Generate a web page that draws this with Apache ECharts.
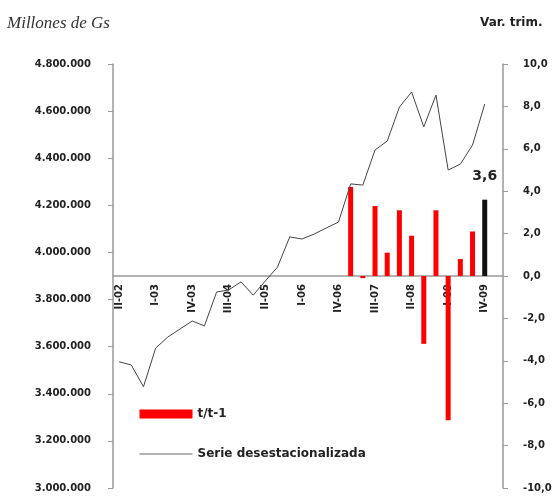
<!DOCTYPE html>
<html>
<head>
    <meta charset="utf-8">
    <title>Serie desestacionalizada</title>
    <script src="https://cdn.jsdelivr.net/npm/echarts@6/dist/echarts.min.js"></script>
    <style>
        html, body { margin: 0; padding: 0; background: #fff; }
        #chart { width: 560px; height: 496px; }
    </style>
</head>
<body>
    <div id="chart"></div>
    <script type="text/javascript">
        // trimestres (el último vacío deja el hueco antes del eje derecho)
        const quarters = ['II-02', 'III-02', 'IV-02', 'I-03', 'II-03', 'III-03', 'IV-03',
            'I-04', 'II-04', 'III-04', 'IV-04', 'I-05', 'II-05', 'III-05', 'IV-05',
            'I-06', 'II-06', 'III-06', 'IV-06', 'I-07', 'II-07', 'III-07', 'IV-07',
            'I-08', 'II-08', 'III-08', 'IV-08', 'I-09', 'II-09', 'III-09', 'IV-09', ''];

        // serie desestacionalizada (millones de Gs)
        const serieDesest = [3536000, 3522000, 3430000, 3594000, 3641000, 3675000, 3709000,
            3688000, 3832000, 3841000, 3875000, 3819000, 3879000, 3938000, 4066000,
            4057000, 4078000, 4104000, 4129000, 4291000, 4286000, 4435000, 4473000,
            4617000, 4681000, 4533000, 4668000, 4350000, 4375000, 4456000, 4630000, null];

        // variación trimestral t/t-1 (%)
        const varTrim = [null, null, null, null, null, null, null, null, null, null,
            null, null, null, null, null, null, null, null, null,
            4.2, -0.1, 3.3, 1.1, 3.1, 1.9, -3.2, 3.1, -6.8, 0.8, 2.1, 3.6, null];

        const leftTicks = { min: 3000000, max: 4800000, step: 200000 };
        const rightTicks = { min: -10, max: 10, step: 2 };

        const lastIdx = 30;

        function fmtMiles(v) {
            return String(v).replace(/\B(?=(\d{3})+(?!\d))/g, '.');
        }
        function fmtDec(v) {
            return v.toFixed(1).replace('.', ',');
        }

        const gridTop = 64, gridBottom = 8, chartH = 496;
        // el eje de categorías cruza en el 0 del eje derecho (mitad de la altura)
        const zeroOffset = -(chartH - gridTop - gridBottom) / 2;

        const axisFont = { fontFamily: 'DejaVu Sans', fontSize: 10, fontWeight: 'bold', color: '#222' };

        const chart = echarts.init(document.getElementById('chart'));
        const option = {
            animation: false,
            textStyle: { fontFamily: 'DejaVu Sans' },
            grid: { left: 113, right: 57, top: gridTop, bottom: gridBottom, containLabel: false, outerBoundsMode: 'none' },
            title: [{
                text: 'Millones de Gs',
                left: 7, top: 15, padding: 0,
                textStyle: { fontFamily: 'Liberation Serif', fontStyle: 'italic', fontWeight: 'normal', fontSize: 17, color: '#333' }
            }, {
                text: 'Var. trim.',
                left: 480, top: 17, padding: 0,
                textStyle: { fontFamily: 'DejaVu Sans', fontWeight: 'bold', fontSize: 12, color: '#222' }
            }],
            legend: {
                orient: 'vertical',
                left: 139, top: 408,
                padding: 0,
                itemWidth: 53, itemHeight: 9, itemGap: 28,
                textStyle: { fontFamily: 'DejaVu Sans', fontSize: 12, fontWeight: 'bold', color: '#222' },
                data: [
                    { name: 't/t-1', icon: 'rect', itemStyle: { color: '#ff0000' } },
                    { name: 'Serie desestacionalizada', itemStyle: { opacity: 0 }, lineStyle: { color: '#666', width: 1 } }
                ]
            },
            xAxis: {
                type: 'category',
                data: quarters,
                boundaryGap: true,
                offset: zeroOffset,
                axisLine: { onZero: false, lineStyle: { color: '#999', width: 1.5 } },
                axisTick: { interval: 0, length: 3, lineStyle: { color: '#999' } },
                axisLabel: Object.assign({ interval: 2, rotate: 90, margin: 8 }, axisFont),
                splitLine: { show: false }
            },
            yAxis: [{
                type: 'value',
                position: 'left',
                min: leftTicks.min, max: leftTicks.max, interval: leftTicks.step,
                axisLine: { show: true, lineStyle: { color: '#999', width: 1.5 } },
                axisTick: { show: true, length: 5, lineStyle: { color: '#999' } },
                axisLabel: Object.assign({ margin: 22, formatter: fmtMiles }, axisFont),
                splitLine: { show: false }
            }, {
                type: 'value',
                position: 'right',
                min: rightTicks.min, max: rightTicks.max, interval: rightTicks.step,
                axisLine: { show: true, lineStyle: { color: '#999', width: 1.5 } },
                axisTick: { show: true, length: 5, lineStyle: { color: '#999' } },
                axisLabel: Object.assign({ margin: 20, formatter: fmtDec }, axisFont),
                splitLine: { show: false }
            }],
            series: [{
                name: 't/t-1',
                type: 'bar',
                yAxisIndex: 1,
                barWidth: 5,
                itemStyle: { color: '#ff0000' },
                data: varTrim.map(function (v, i) {
                    if (i !== lastIdx) return v;
                    return {
                        value: v,
                        itemStyle: { color: '#111' },
                        label: {
                            show: true, position: 'top', distance: 16,
                            formatter: function (p) { return fmtDec(p.value); },
                            fontFamily: 'DejaVu Sans', fontSize: 14, fontWeight: 'bold', color: '#222'
                        }
                    };
                })
            }, {
                name: 'Serie desestacionalizada',
                type: 'line',
                yAxisIndex: 0,
                symbol: 'none',
                itemStyle: { color: '#444' },
                lineStyle: { color: '#444', width: 1 },
                data: serieDesest
            }]
        };
        chart.setOption(option);
    </script>
</body>
</html>
